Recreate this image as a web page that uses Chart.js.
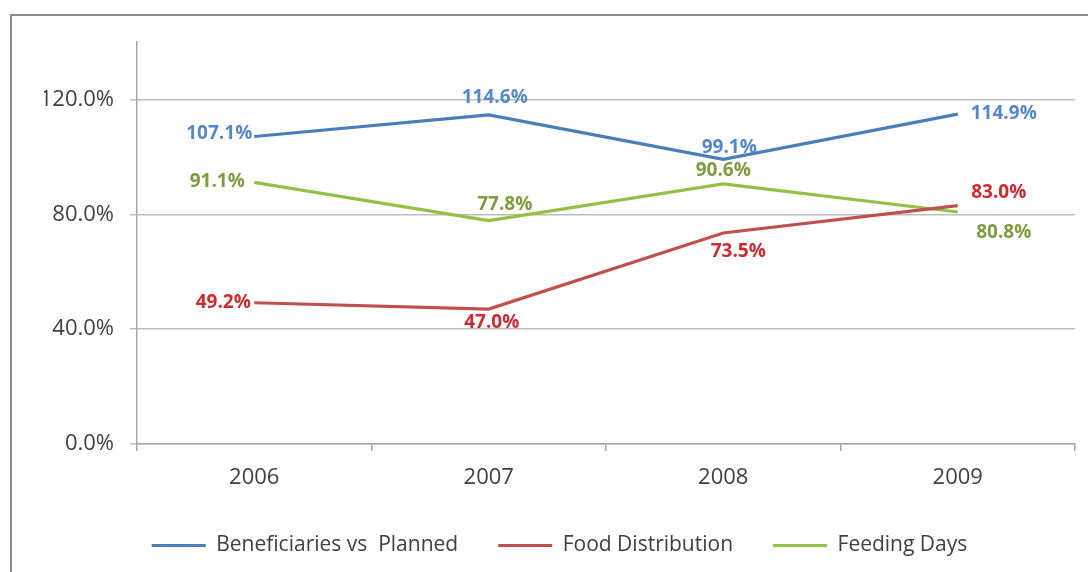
<!DOCTYPE html>
<html>
<head>
<meta charset="utf-8">
<title>Beneficiaries, food distribution and feeding days 2006-2009</title>
<script src="https://cdn.jsdelivr.net/npm/chart.js@4.4.1/dist/chart.umd.min.js"></script>
<style>
  html, body { margin: 0; padding: 0; background: #fff; width: 1088px; height: 572px; overflow: hidden; }
  #frame { position: absolute; left: 10px; top: 14px; width: 1200px; height: 700px;
           border-top: 2px solid #8c8c8c; border-left: 2px solid #8c8c8c; }
  #box { position: absolute; left: 0; top: 0; width: 1088px; height: 566px; }
</style>
</head>
<body>
<div id="frame"></div>
<div id="box"><canvas id="chart"></canvas></div>
<script>
// values (percent)
const years = ["2006", "2007", "2008", "2009"];
const beneficiaries = [107.1, 114.6, 99.1, 114.9];
const foodDistribution = [49.2, 47.0, 73.5, 83.0];
const feedingDays = [91.1, 77.8, 90.6, 80.8];
const yTicks = [0, 40, 80, 120];

// where each value label sits relative to its point [dx, dy]
const labelPlace = {
  beneficiaries: [[-35, -3], [6, -17], [6, -12], [46, 0]],
  food: [[-31, 0], [3, 14], [15, 19], [41, -13]],
  feeding: [[-37, -1], [16, -16], [0, -13], [46, 21]]
};

const FONT = "'Open Sans', 'DejaVu Sans', sans-serif";

// draws the "107.1%" style labels next to every point
const pointLabels = {
  id: "pointLabels",
  afterDatasetsDraw(chart) {
    const ctx = chart.ctx;
    chart.data.datasets.forEach((ds, i) => {
      const meta = chart.getDatasetMeta(i);
      meta.data.forEach((pt, j) => {
        const off = ds.labelOffsets[j];
        ctx.save();
        ctx.font = "bold 19px " + FONT;
        ctx.fillStyle = ds.labelColor;
        ctx.textAlign = "center";
        ctx.textBaseline = "middle";
        ctx.fillText(ds.data[j].toFixed(1) + "%", pt.x + off[0], pt.y + off[1]);
        ctx.restore();
      });
    });
  }
};

function line(label, data, color, labelColor, offsets) {
  return {
    label: label,
    data: data,
    borderColor: color,
    backgroundColor: color,
    borderWidth: 3.2,
    pointRadius: 0,
    tension: 0,
    labelColor: labelColor,
    labelOffsets: offsets
  };
}

new Chart(document.getElementById("chart"), {
  type: "line",
  data: {
    labels: years,
    datasets: [
      line("Beneficiaries vs  Planned", beneficiaries, "#4a7ebb", "#5587c9", labelPlace.beneficiaries),
      line("Food Distribution", foodDistribution, "#c0504d", "#cf2a30", labelPlace.food),
      line("Feeding Days", feedingDays, "#93c047", "#7c9c3e", labelPlace.feeding)
    ]
  },
  options: {
    responsive: true,
    maintainAspectRatio: false,
    animation: false,
    layout: { padding: { top: 42, right: 13, left: 44, bottom: 0 } },
    scales: {
      x: {
        offset: true,
        grid: { offset: true, drawOnChartArea: false, tickLength: 7, color: "#a6a6a6", lineWidth: 1.5 },
        border: { color: "#a6a6a6", width: 1.5 },
        ticks: { color: "#404040", font: { family: FONT, size: 22 }, padding: 14 },
        afterFit(scale) { scale.height = 51; }
      },
      y: {
        min: 0,
        max: 140,
        grid: { color: "#bdbdbd", lineWidth: 1.5, tickLength: 7 },
        border: { color: "#a6a6a6", width: 1.5 },
        ticks: {
          color: "#404040",
          font: { family: FONT, size: 22 },
          padding: 16,
          callback: (v) => v.toFixed(1) + "%"
        },
        afterBuildTicks(scale) { scale.ticks = yTicks.map(v => ({ value: v })); },
        afterFit(scale) { scale.width = 93; }
      }
    },
    plugins: {
      tooltip: { enabled: false },
      legend: {
        position: "bottom",
        labels: {
          color: "#404040",
          font: { family: FONT, size: 21 },
          boxWidth: 54,
          boxHeight: 3,
          padding: 40,
          generateLabels(chart) {
            const items = Chart.defaults.plugins.legend.labels.generateLabels(chart);
            items.forEach(it => { it.lineWidth = 0; it.fillStyle = it.strokeStyle; });
            return items;
          }
        }
      }
    }
  },
  plugins: [pointLabels]
});
</script>
</body>
</html>
